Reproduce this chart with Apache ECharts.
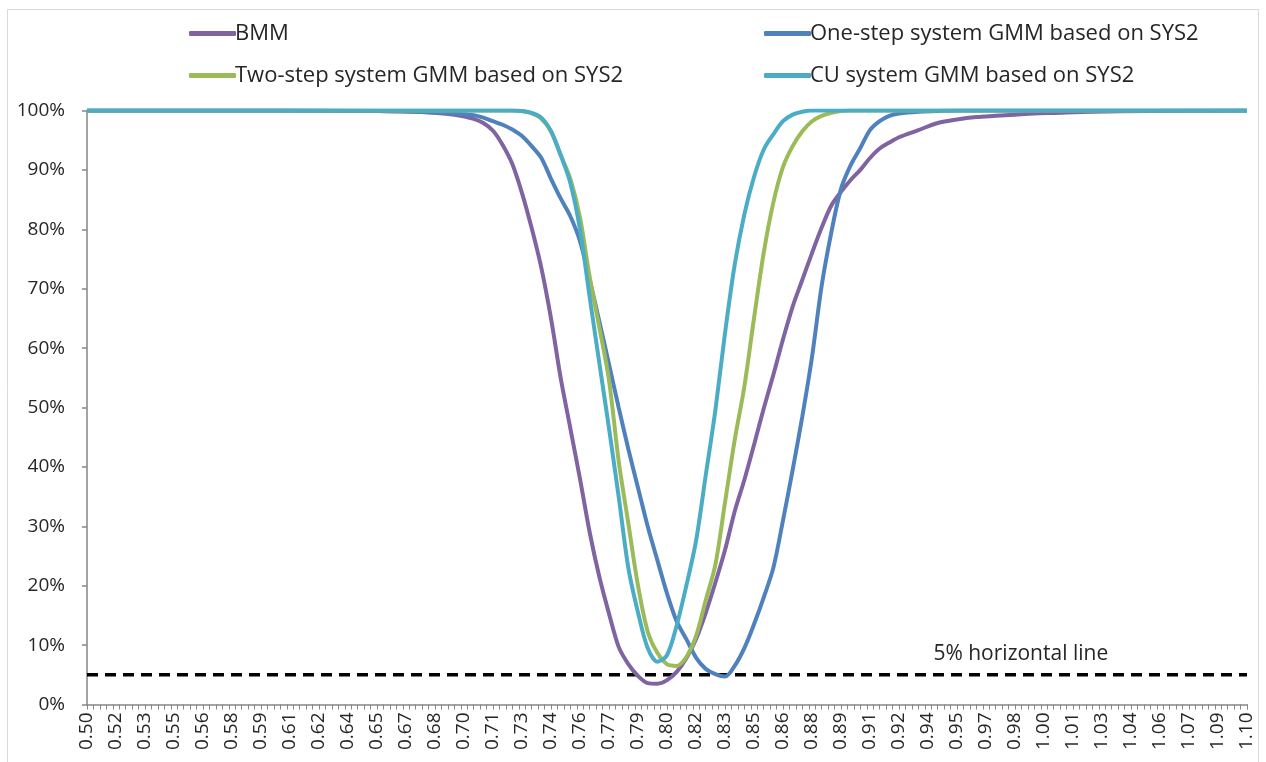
<!DOCTYPE html>
<html>
<head>
<meta charset="utf-8">
<script src="https://cdn.jsdelivr.net/npm/echarts@6/dist/echarts.min.js"></script>
<style>
html,body{margin:0;padding:0;background:#fff;}
#chart{width:1266px;height:762px;}
</style>
</head>
<body>
<div id="chart"></div>
<script>
// x values (shared by all series)
const xValues = [0.50, 0.60, 0.65, 0.67, 0.69, 0.70, 0.705, 0.71, 0.715, 0.72, 0.725, 0.73, 0.735, 0.74, 0.745, 0.75, 0.755, 0.76, 0.765, 0.77, 0.775, 0.78, 0.785, 0.79, 0.795, 0.80, 0.805, 0.81, 0.815, 0.82, 0.825, 0.83, 0.835, 0.84, 0.845, 0.85, 0.855, 0.86, 0.865, 0.87, 0.875, 0.88, 0.885, 0.89, 0.895, 0.90, 0.905, 0.91, 0.915, 0.92, 0.93, 0.94, 0.95, 0.96, 0.97, 0.98, 0.99, 1.00, 1.02, 1.05, 1.10];

const bmm = [100, 100, 99.9, 99.8, 99.3, 98.6, 97.9, 96.6, 94.2, 91, 86.1, 80.2, 73.5, 65, 55, 46.5, 38, 29, 21.5, 15.3, 9.7, 6.8, 4.8, 3.6, 3.5, 4.1, 5.5, 7.8, 11, 15.4, 20.5, 26, 32.5, 37.8, 43.7, 49.8, 55.5, 61.5, 67, 71.5, 76, 80.3, 84, 86.3, 88.3, 90, 92, 93.6, 94.6, 95.5, 96.7, 97.9, 98.5, 98.9, 99.1, 99.3, 99.5, 99.6, 99.8, 99.9, 100];

const oneStep = [100, 100, 99.9, 99.8, 99.5, 99.2, 98.8, 98.2, 97.6, 96.8, 95.7, 94, 92, 88.5, 85.2, 82.2, 78, 71.5, 64.5, 57.3, 50, 43, 36.5, 30, 24.3, 18.7, 14, 11, 7.9, 6, 5.1, 4.7, 6.5, 9.5, 13.5, 18, 23, 31, 39.5, 48.5, 58.5, 70.5, 79.5, 86.8, 90.8, 93.7, 96.7, 98.2, 99.1, 99.5, 99.8, 99.9, 100, 100, 100, 100, 100, 100, 100, 100, 100];

const twoStep = [100, 100, 100, 100, 100, 100, 100, 100, 100, 100, 99.9, 99.5, 98.6, 96.5, 92.5, 88.5, 82, 72, 63.5, 54.6, 41, 30.5, 20, 12.3, 8.7, 6.8, 6.5, 8, 11.5, 17.5, 23.5, 34, 44.5, 53.5, 65, 76, 84.5, 90.5, 94, 96.5, 98.2, 99.1, 99.6, 99.9, 100, 100, 100, 100, 100, 100, 100, 100, 100, 100, 100, 100, 100, 100, 100, 100, 100];

const cuSystem = [100, 100, 100, 100, 100, 100, 100, 100, 100, 100, 99.9, 99.6, 98.8, 96.5, 92.5, 87.8, 80, 68.6, 57.5, 46.5, 35, 23, 15.5, 9.5, 7.2, 8.3, 13.3, 20, 27.5, 38.5, 49.5, 62.5, 74, 82.5, 88.8, 93.4, 96, 98.2, 99.3, 99.8, 100, 100, 100, 100, 100, 100, 100, 100, 100, 100, 100, 100, 100, 100, 100, 100, 100, 100, 100, 100, 100];

const xTickLabels = ['0.50','0.52','0.53','0.55','0.56','0.58','0.59','0.61','0.62','0.64','0.65','0.67','0.68','0.70','0.71','0.73','0.74','0.76','0.77','0.79','0.80','0.82','0.83','0.85','0.86','0.88','0.89','0.91','0.92','0.94','0.95','0.97','0.98','1.00','1.01','1.03','1.04','1.06','1.07','1.09','1.10'];

const seriesNames = ['BMM', 'One-step system GMM based on SYS2', 'Two-step system GMM based on SYS2', 'CU system GMM based on SYS2'];
const seriesColors = ['#8064A2', '#4F81BD', '#9BBB59', '#4BACC6'];
const hLineValue = 5;
const hLineLabel = '5% horizontal line';
const hLineLabelX = 0.983;

const xMin = 0.50, xMax = 1.10, labelStep = 0.015, tickStep = 0.6 / 180;

const FONT = '"Open Sans", "DejaVu Sans", sans-serif';
const TXT = '#262626';
const AXIS = '#868686';

const allSeries = [bmm, oneStep, twoStep, cuSystem];
const lineSeries = allSeries.map((arr, i) => ({
  name: seriesNames[i],
  type: 'line',
  xAxisIndex: 0,
  data: xValues.map((x, j) => [x, arr[j]]),
  showSymbol: false,
  symbol: 'none',
  smooth: 0.3,
  lineStyle: { color: seriesColors[i], width: 4 },
  itemStyle: { color: seriesColors[i] },
  z: 3 + i
}));

const hLine = {
  name: hLineLabel,
  type: 'line',
  xAxisIndex: 0,
  data: [[xMin, hLineValue], [xMax, hLineValue]],
  showSymbol: false,
  symbol: 'none',
  lineStyle: { color: '#000', width: 3.5, type: [11, 7] },
  z: 2,
  markPoint: {
    symbol: 'circle',
    symbolSize: 0,
    data: [{ coord: [hLineLabelX, hLineValue] }],
    label: {
      show: true,
      position: 'top',
      distance: 10,
      formatter: hLineLabel,
      fontFamily: FONT,
      fontSize: 21,
      color: TXT
    }
  }
};

const legendCommon = {
  orient: 'vertical',
  itemWidth: 47,
  itemHeight: 5,
  icon: 'roundRect',
  itemGap: 19,
  textStyle: { fontFamily: FONT, fontSize: 22, color: TXT, lineHeight: 23, padding: [0, 0, 0, -6] }
};

const chart = echarts.init(document.getElementById('chart'), null, { renderer: 'canvas' });
chart.setOption({
  animation: false,
  backgroundColor: '#ffffff',
  graphic: [{
    type: 'rect',
    shape: { x: 7.5, y: 9.5, width: 1251, height: 770 },
    style: { fill: 'none', stroke: '#d9d9d9', lineWidth: 1 },
    silent: true
  }],
  legend: [
    Object.assign({}, legendCommon, { left: 184, top: 17, data: [seriesNames[0], seriesNames[2]] }),
    Object.assign({}, legendCommon, { left: 759, top: 17, data: [seriesNames[1], seriesNames[3]] })
  ],
  grid: { left: 87, right: 19, top: 110.5, bottom: 57.5, containLabel: false },
  xAxis: [{
    type: 'value',
    min: xMin,
    max: xMax,
    interval: labelStep,
    axisLine: { show: true, lineStyle: { color: AXIS, width: 1.5 } },
    axisTick: { show: false },
    splitLine: { show: false },
    axisLabel: {
      rotate: 90,
      margin: 8,
      fontFamily: FONT,
      fontSize: 19,
      color: TXT,
      showMinLabel: true,
      showMaxLabel: true,
      hideOverlap: false,
      formatter: function (v) {
        const idx = Math.round((v - xMin) / labelStep);
        return xTickLabels[idx] !== undefined ? xTickLabels[idx] : '';
      }
    }
  }, {
    type: 'value',
    min: xMin,
    max: xMax,
    interval: tickStep,
    position: 'bottom',
    axisLine: { show: false },
    axisTick: { show: true, length: 5, lineStyle: { color: AXIS, width: 1 } },
    axisLabel: { show: false },
    splitLine: { show: false }
  }],
  yAxis: {
    type: 'value',
    min: 0,
    max: 100,
    interval: 10,
    axisLine: { show: true, lineStyle: { color: AXIS, width: 1.5 } },
    axisTick: { show: true, length: 5, lineStyle: { color: AXIS, width: 1.5 } },
    splitLine: { show: false },
    axisLabel: {
      margin: 22,
      fontFamily: FONT,
      fontSize: 19,
      color: TXT,
      formatter: '{value}%'
    }
  },
  series: [hLine].concat(lineSeries)
});
</script>
</body>
</html>
